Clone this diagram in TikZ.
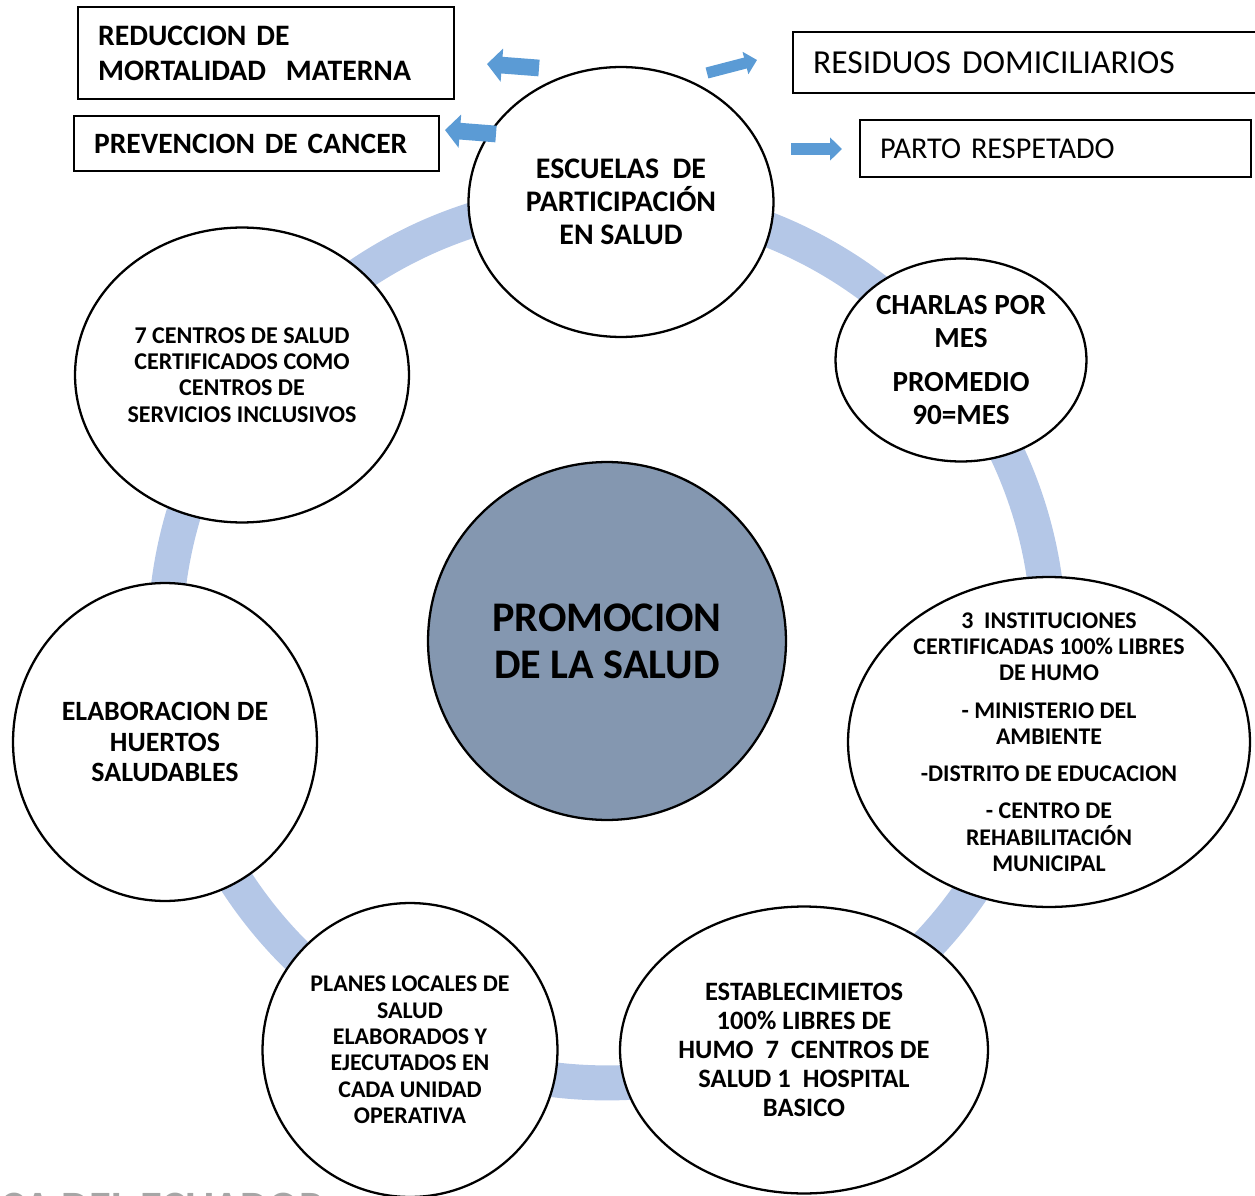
\documentclass[tikz,border=0pt]{standalone}
\usepackage{fontspec}
\setmainfont{Carlito}
\usetikzlibrary{shapes.geometric,arrows.meta}
\definecolor{ringblue}{HTML}{B4C7E7}
\definecolor{hubblue}{HTML}{8497B0}
\definecolor{arrowblue}{HTML}{5B9BD5}

\begin{document}
\begin{tikzpicture}[x=0.02cm,y=-0.02cm,
    bubble/.style={ellipse, draw=black, fill=white, line width=1.3pt, inner sep=0pt, align=center},
    tag/.style={rectangle, draw=black, line width=1.3pt, inner xsep=0.4cm, inner ysep=0pt, align=left, anchor=west},
    bigpointer/.style={draw=arrowblue, line width=9.5pt, -{Triangle[width=18.5pt,length=8.5pt]}},
    smallpointer/.style={draw=arrowblue, line width=6.4pt, -{Triangle[width=12.8pt,length=6.8pt]}}]
		\useasboundingbox (0,0) rectangle (1255,1196);
		
		% ring behind the bubbles
		\draw[ringblue, line width=0.7cm] (607,641) circle[radius=8.84cm];
		\node[anchor=north west, inner sep=0pt, text=black!35, font=\bfseries\fontsize{25.5}{25.5}\selectfont] (pie) at (0,1192.5) {CA DEL ECUADOR};
		
		\node[bubble, minimum width=6.1cm, minimum height=5.4cm, font=\bfseries\fontsize{17}{18.7}\selectfont] (escuelas) at (621,202) {ESCUELAS\ \ DE\\PARTICIPACIÓN\\EN SALUD};
		\node[bubble, minimum width=5.02cm, minimum height=4.06cm, font=\bfseries\fontsize{16.6}{18.7}\selectfont] (charlas) at (961,360) {CHARLAS POR\\MES\\[6.8pt]PROMEDIO\\90=MES};
		\node[bubble, inner sep=-0.34cm, minimum width=8.04cm, minimum height=6.6cm, font=\bfseries\fontsize{13.6}{15}\selectfont] (humo) at (1049,742) {3\ \ INSTITUCIONES\\CERTIFICADAS 100\% LIBRES\\DE HUMO\\[6.5pt]- MINISTERIO DEL\\AMBIENTE\\[6pt]-DISTRITO DE EDUCACION\\[6pt]- CENTRO DE\\REHABILITACIÓN\\MUNICIPAL};
		\node[bubble, minimum width=7.36cm, minimum height=5.74cm, font=\bfseries\fontsize{15.1}{16.4}\selectfont] (estab) at (804,1050) {ESTABLECIMIETOS\\100\% LIBRES DE\\HUMO\ \ 7\ \ CENTROS DE\\SALUD 1\ \ HOSPITAL\\BASICO};
		\node[bubble, minimum width=5.9cm, minimum height=5.88cm, font=\bfseries\fontsize{13.6}{15}\selectfont] (planes) at (410,1050) {PLANES LOCALES DE\\SALUD\\ELABORADOS Y\\EJECUTADOS EN\\CADA UNIDAD\\OPERATIVA};
		\node[bubble, minimum width=6.08cm, minimum height=6.36cm, font=\bfseries\fontsize{15.9}{17.3}\selectfont] (huertos) at (165,742) {ELABORACION DE\\HUERTOS\\SALUDABLES};
		\node[bubble, minimum width=6.68cm, minimum height=5.9cm, font=\bfseries\fontsize{13.7}{15}\selectfont] (centros) at (242,375) {7 CENTROS DE SALUD\\CERTIFICADOS COMO\\CENTROS DE\\SERVICIOS INCLUSIVOS};
		
		\node[circle, draw=black, fill=hubblue, line width=1.3pt, minimum size=7.16cm, inner sep=0pt, align=center, font=\bfseries\fontsize{24}{26.6}\selectfont] (promocion) at (607,641) {PROMOCION\\DE LA SALUD};
		
		% boxes round the top bubble
		\node[tag, text width=6.72cm, minimum height=1.84cm, font=\bfseries\fontsize{16.9}{19.8}\selectfont] (materna) at (77,53) {REDUCCION DE\\MORTALIDAD\ \ MATERNA};
		\node[tag, text width=6.5cm, minimum height=1.1cm, font=\bfseries\fontsize{16.8}{19}\selectfont] (cancer) at (73,143.5) {PREVENCION DE CANCER};
		\node[tag, text width=8.8cm, minimum height=1.22cm, font=\fontsize{19.1}{21}\selectfont] (residuos) at (792,62.5) {RESIDUOS DOMICILIARIOS};
		\node[tag, text width=7.02cm, minimum height=1.14cm, font=\fontsize{17.2}{20}\selectfont] (parto) at (859,148.5) {PARTO RESPETADO};
		
		\coordinate (t1) at (539,68);
		\coordinate (h1) at (487,64);
		\coordinate (t2) at (496,134);
		\coordinate (h2) at (445,130);
		\coordinate (t3) at (707,73);
		\coordinate (h3) at (757,60);
		\coordinate (t4) at (791,149);
		\coordinate (h4) at (842,149);
		\draw[bigpointer] (t1) -- (h1);
		\draw[bigpointer] (t2) -- (h2);
		\draw[smallpointer] (t3) -- (h3);
		\draw[smallpointer] (t4) -- (h4);
\end{tikzpicture}
\end{document}
